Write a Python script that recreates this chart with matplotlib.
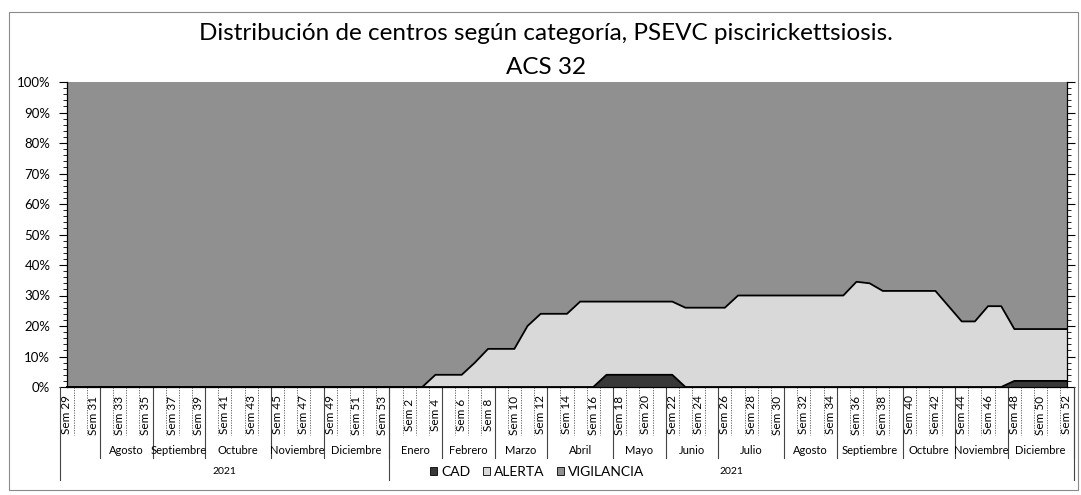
import numpy as np
import matplotlib
matplotlib.use("Agg")
import matplotlib.pyplot as plt
from matplotlib.patches import Patch, Rectangle
from matplotlib.lines import Line2D
from matplotlib.ticker import MultipleLocator, PercentFormatter

plt.rcParams['font.family'] = ['Lato', 'DejaVu Sans']

# ---------------- data ----------------
title_line1 = "Distribución de centros según categoría, PSEVC piscirickettsiosis."
title_line2 = "ACS 32"

weeks = list(range(29, 54)) + list(range(1, 53))
week_labels = [f"Sem {w}" for w in weeks]

months = ["", "Agosto", "Septiembre", "Octubre", "Noviembre", "Diciembre",
          "Enero", "Febrero", "Marzo", "Abril", "Mayo", "Junio", "Julio",
          "Agosto", "Septiembre", "Octubre", "Noviembre", "Diciembre"]
month_weeks = [3, 4, 4, 5, 4, 5,
               4, 4, 4, 5, 4, 4, 5, 4, 5, 4, 4, 5]
years = ["2021", "2021"]
year_weeks = [25, 52]

series_names = ["CAD", "ALERTA", "VIGILANCIA"]

# percentages, Sem 29..53 (2021) then Sem 1..52
cad = [0] * 25 + [
    0, 0, 0, 0, 0, 0, 0, 0, 0, 0,
    0, 0, 0, 0, 0, 0, 4, 4, 4, 4,
    4, 4, 0, 0, 0, 0, 0, 0, 0, 0,
    0, 0, 0, 0, 0, 0, 0, 0, 0, 0,
    0, 0, 0, 0, 0, 0, 0, 2, 2, 2,
    2, 2]
alerta = [0] * 25 + [
    0, 0, 0, 4, 4, 4, 8, 12.5, 12.5, 12.5,
    20, 24, 24, 24, 28, 28, 24, 24, 24, 24,
    24, 24, 26, 26, 26, 26, 30, 30, 30, 30,
    30, 30, 30, 30, 30, 34.5, 34, 31.5, 31.5, 31.5,
    31.5, 31.5, 26.5, 21.5, 21.5, 26.5, 26.5, 17, 17, 17,
    17, 17]
vigilancia = [100] * 25 + [
    100, 100, 100, 96, 96, 96, 92, 87.5, 87.5, 87.5,
    80, 76, 76, 76, 72, 72, 72, 72, 72, 72,
    72, 72, 74, 74, 74, 74, 70, 70, 70, 70,
    70, 70, 70, 70, 70, 65.5, 66, 68.5, 68.5, 68.5,
    68.5, 68.5, 73.5, 78.5, 78.5, 73.5, 73.5, 81, 81, 81,
    81, 81]

colors = ["#383838", "#d9d9d9", "#909090"]

# ---------------- figure ----------------
W, H = 1081, 495
fig = plt.figure(figsize=(W / 100, H / 100), dpi=100)
fig.patch.set_facecolor("white")

# plot area in pixels
px_left, px_right, px_top, px_bottom = 67, 1067, 82, 387
ax = fig.add_axes([px_left / W, 1 - px_bottom / H,
                   (px_right - px_left) / W, (px_bottom - px_top) / H])

x = np.arange(len(weeks))
vals = [np.array(cad) / 100, np.array(alerta) / 100, np.array(vigilancia) / 100]
ax.stackplot(x, *vals, colors=colors, linewidth=0)
# black boundary lines between the stacked areas
ax.plot(x, vals[0], color="black", lw=1.3, clip_on=False)
ax.plot(x, vals[0] + vals[1], color="black", lw=1.3, clip_on=False)

ax.set_xlim(0, len(weeks) - 1)
ax.set_ylim(0, 1)
ax.set_facecolor("white")

ax.yaxis.set_major_locator(MultipleLocator(0.1))
ax.yaxis.set_minor_locator(MultipleLocator(0.02))
ax.yaxis.set_major_formatter(PercentFormatter(1.0, decimals=0))
ax.tick_params(axis="y", which="major", length=6, width=0.8, labelsize=9.5,
               right=True, direction="out", pad=6)
ax.tick_params(axis="y", which="minor", length=3, width=0.6, right=True,
               direction="out")
ax.set_xticks([])
for s in ["left", "bottom", "right"]:
    ax.spines[s].set_color("black")
    ax.spines[s].set_linewidth(0.9)
ax.spines["top"].set_visible(False)

# ---------------- multi-level category axis ----------------
plot_h = px_bottom - px_top


def frac(py):
    return -(py - px_bottom) / plot_h


tr = ax.get_xaxis_transform()

# week labels (every other)
for i, lab in enumerate(week_labels):
    if i % 2 == 0:
        ax.text(i, frac(415), lab, transform=tr, rotation=90, ha="center",
                va="center", fontsize=8.5, clip_on=False)

# week separators
for i in range(len(weeks) - 1):
    ax.add_line(Line2D([i + 0.5, i + 0.5], [0, frac(435)], transform=tr,
                       color="#555555", lw=0.6, ls=(0, (1.5, 1.5)),
                       clip_on=False))

# month labels and separators
start = -0.5
for name, n in zip(months, month_weeks):
    end = start + n
    if name:
        ax.text((start + end) / 2, frac(450), name, transform=tr,
                ha="center", va="center", fontsize=8, clip_on=False)
    ax.add_line(Line2D([end, end], [0, frac(458)], transform=tr,
                       color="#444444", lw=0.8, clip_on=False))
    start = end

# year labels and separators
start = -0.5
ax.add_line(Line2D([start, start], [0, frac(480)], transform=tr,
                   color="#444444", lw=0.8, clip_on=False))
for name, n in zip(years, year_weeks):
    end = start + n
    ax.text((start + end) / 2, frac(472), name, transform=tr,
            ha="center", va="center", fontsize=7.5, clip_on=False)
    ax.add_line(Line2D([end, end], [0, frac(480)], transform=tr,
                       color="#444444", lw=0.8, clip_on=False))
    start = end

# ---------------- title ----------------
fig.text(546 / W, 1 - 34 / H, title_line1, ha="center", va="center",
         fontsize=17.5)
fig.text(546 / W, 1 - 67 / H, title_line2, ha="center", va="center",
         fontsize=17.5)

# ---------------- legend ----------------
handles = [Patch(facecolor=c, edgecolor="black", linewidth=0.6) for c in colors]
fig.legend(handles, series_names, loc="center",
           bbox_to_anchor=(537 / W, 1 - 472 / H), ncol=3, frameon=False,
           fontsize=10, handlelength=0.5, handleheight=0.5,
           handletextpad=0.3, columnspacing=0.9)

# chart area border
fig.add_artist(Rectangle((9 / W, 1 - 490 / H), (1078 - 9) / W,
                         (490 - 12) / H, transform=fig.transFigure,
                         fill=False, edgecolor="#8a8a8a", lw=0.8))

fig.savefig("out.png", dpi=100, facecolor="white")
